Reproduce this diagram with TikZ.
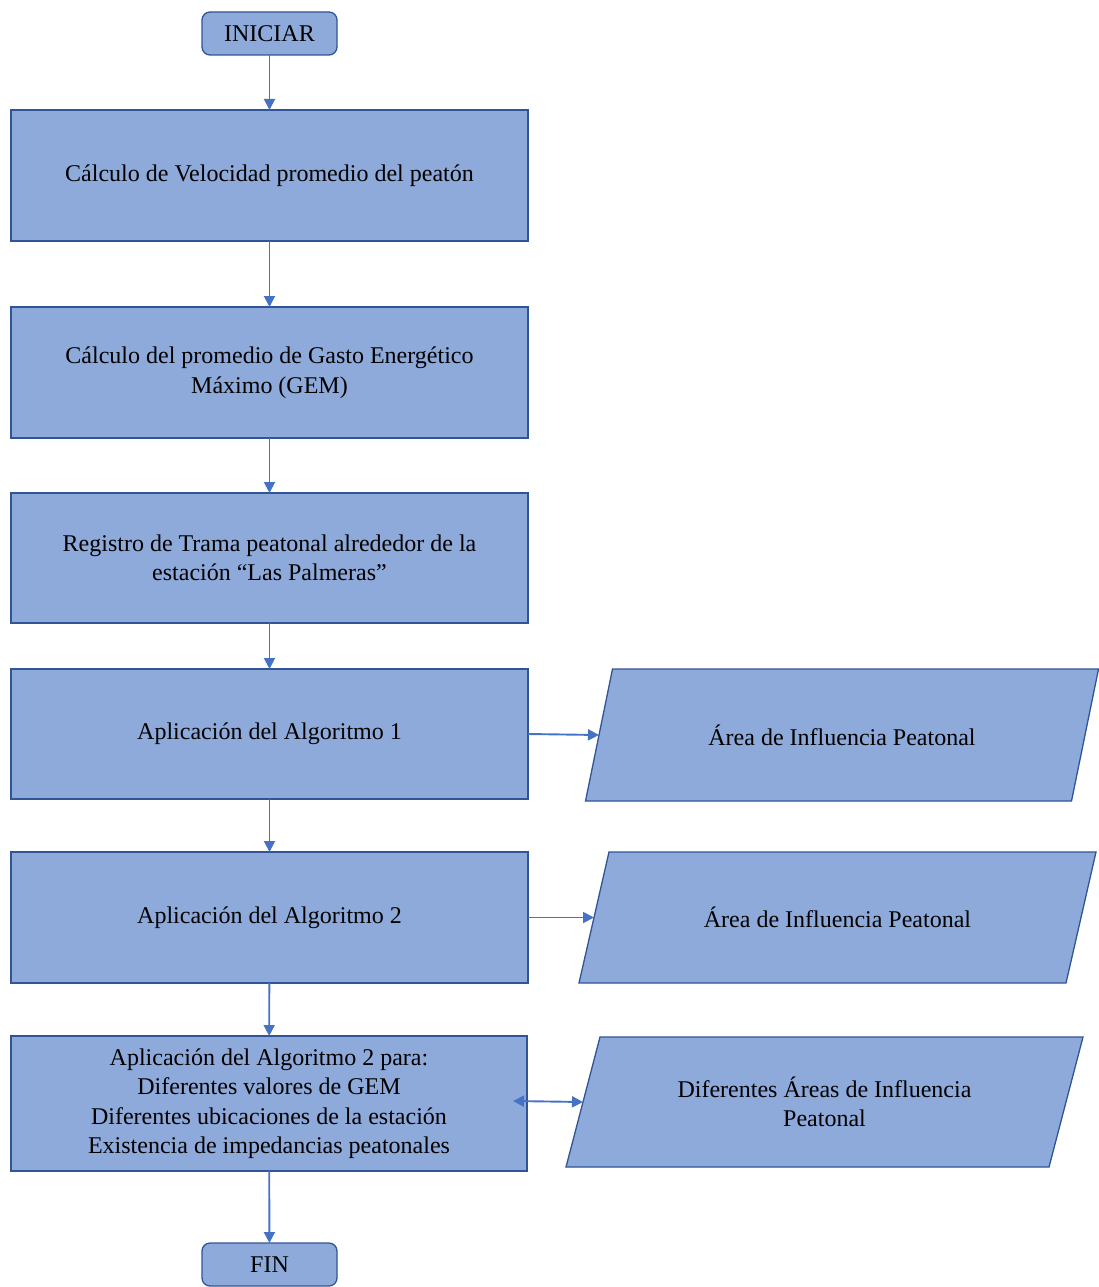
\documentclass[tikz,border=0pt]{standalone}
\usepackage{fontspec}
\setmainfont{Liberation Serif}
\usetikzlibrary{arrows.meta,calc}
\definecolor{boxfill}{HTML}{8EAADB}
\definecolor{boxline}{HTML}{2F5597}
\definecolor{arrowblue}{HTML}{4472C4}
\tikzset{
  txt/.style={font=\fontsize{24}{29.5}\selectfont, align=center, text=black},
  procbox/.style={txt, draw=boxline, fill=boxfill, line width=1.3pt,
    rectangle, inner sep=0pt, outer sep=0pt},
  termbox/.style={procbox, rounded corners=8pt, minimum width=135, minimum height=43},
  ioshape/.style={draw=boxline, fill=boxfill, line width=1.3pt, line join=miter},
  flow/.style={draw=arrowblue, line width=1.9pt,
    -{Triangle[length=11pt,width=11pt]}},
  flowboth/.style={draw=arrowblue, line width=1.9pt,
    {Triangle[length=11pt,width=11pt]}-{Triangle[length=11pt,width=11pt]}}
}
% data parallelogram: name, centre, total width, height, slant, text
\newcommand\dataio[6]{%
  \coordinate (#1c) at #2;
  \path[ioshape] ($(#1c)+(-#3/2,#4/2)$) -- ($(#1c)+(-#3/2+#5,-#4/2)$)
    -- ($(#1c)+(#3/2,-#4/2)$) -- ($(#1c)+(#3/2-#5,#4/2)$) -- cycle;
  \coordinate (#1in) at ($(#1c)+(-#3/2+#5/2,0)$);
  \node[txt] (#1) at (#1c) {#6};
}
\begin{document}
\begin{tikzpicture}[x=1pt,y=-1pt]
  \useasboundingbox (0,0) rectangle (1099,1287);

  % terminals
  \node[termbox] (start) at (269.5,33.5) {INICIAR};
  \node[termbox] (stop) at (269.5,1264.5) {FIN};

  % process steps
  \node[procbox, minimum width=517, minimum height=131] (s1) at (269.5,175.5)
    {Cálculo de Velocidad promedio del peatón};
  \node[procbox, minimum width=517, minimum height=131] (s2) at (269.5,372.5)
    {Cálculo del promedio de Gasto Energético\\Máximo (GEM)};
  \node[procbox, minimum width=517, minimum height=130] (s3) at (269.5,558)
    {Registro de Trama peatonal alrededor de la\\estación “Las Palmeras”};
  \node[procbox, minimum width=517, minimum height=130] (s4) at (269.5,734)
    {Aplicación del Algoritmo 1};
  \node[procbox, minimum width=517, minimum height=131] (s5) at (269.5,917.5)
    {Aplicación del Algoritmo 2};
  \node[procbox, minimum width=516, minimum height=135] (s6) at (269,1103.5)
    {Aplicación del Algoritmo 2 para:\\Diferentes valores de GEM\\Diferentes ubicaciones de la estación\\Existencia de impedancias peatonales};

  % outputs
  \dataio{o1}{(842,735)}{513}{132}{27}{Área de Influencia Peatonal}
  \dataio{o2}{(837.5,917.5)}{517}{131}{30}{Área de Influencia Peatonal}
  \dataio{o3}{(824.5,1102)}{517}{130}{34}{Diferentes Áreas de Influencia\\Peatonal}

  \coordinate (s6in) at (513,1101);

  % flow
  \draw[flow] (start) -- (s1);
  \draw[flow] (s1) -- (s2);
  \draw[flow] (s2) -- (s3);
  \draw[flow] (s3) -- (s4);
  \draw[flow] (s4) -- (s5);
  \draw[flow] (s5) -- (s6);
  \draw[flow] (s6) -- (stop);
  \draw[flow] (s4.east) -- (o1in);
  \draw[flow] (s5.east) -- (o2in);
  \draw[flowboth] (s6in) -- (o3in);
\end{tikzpicture}
\end{document}
